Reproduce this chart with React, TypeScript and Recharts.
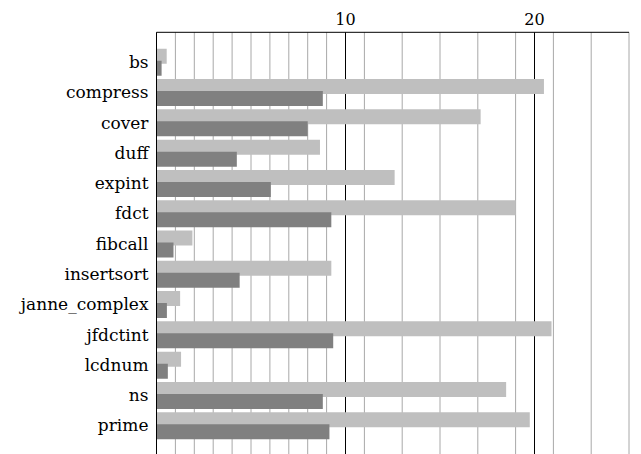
import React from 'react';
import { BarChart, Bar, XAxis, YAxis, CartesianGrid } from 'recharts';

const categories = ['bs', 'compress', 'cover', 'duff', 'expint', 'fdct', 'fibcall', 'insertsort', 'janne_complex', 'jfdctint', 'lcdnum', 'ns', 'prime'];
const lightValues = [0.54, 20.5, 17.15, 8.65, 12.6, 19.0, 1.9, 9.25, 1.25, 20.9, 1.3, 18.5, 19.75];
const darkValues = [0.27, 8.8, 8.0, 4.25, 6.05, 9.25, 0.9, 4.4, 0.55, 9.35, 0.6, 8.8, 9.15];
const gridValues = Array.from({ length: 26 }, (_, i) => i);
const majorValues = [10, 20];
const tickLabels = [10, 20];

const data = categories.map((name, i) => ({ name, light: lightValues[i], dark: darkValues[i] }));

const FONT = 'DejaVu Serif';

export default function App() {
  return (
    <div style={{ position: 'fixed', left: 0, top: 0, width: 641, height: 454, overflow: 'hidden', background: '#fff', fontFamily: FONT }}>
      <BarChart
        width={641}
        height={470}
        data={data}
        layout="vertical"
        margin={{ top: 0, right: 12, bottom: 15, left: 0 }}
        barSize={15}
        barGap={-3}
        style={{ fontFamily: FONT }}
      >
        <CartesianGrid horizontal={false} verticalValues={gridValues} stroke="#a8a8a8" strokeWidth={1} />
        <CartesianGrid horizontal={false} verticalValues={majorValues} stroke="#000" strokeWidth={1} />
        <XAxis
          type="number"
          orientation="top"
          domain={[0, 25]}
          ticks={tickLabels}
          height={32.3}
          axisLine={{ stroke: '#000', strokeWidth: 1 }}
          tickLine={false}
          tickMargin={1}
          tick={{ fill: '#000', fontSize: 16, fontFamily: FONT, style: { fontFamily: FONT } }}
          allowDataOverflow
        />
        <YAxis
          type="category"
          dataKey="name"
          width={156.5}
          padding={{ top: 14.5, bottom: 14.5 }}
          axisLine={{ stroke: '#000', strokeWidth: 1 }}
          tickLine={false}
          interval={0}
          tick={{ fill: '#000', fontSize: 17, fontFamily: FONT, style: { fontFamily: FONT } }}
        />
        <Bar dataKey="light" fill="#bfbfbf" isAnimationActive={false} />
        <Bar dataKey="dark" fill="#808080" isAnimationActive={false} />
      </BarChart>
    </div>
  );
}
